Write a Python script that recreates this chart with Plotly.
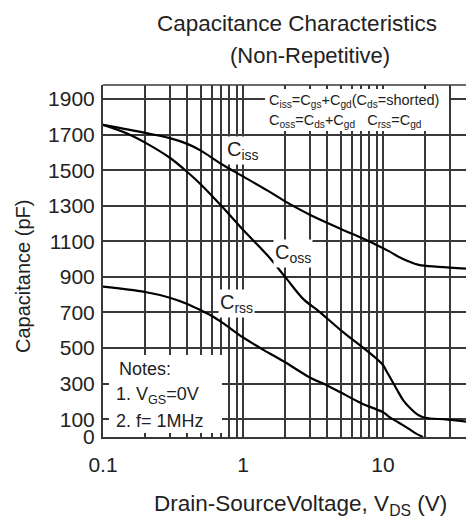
import plotly.graph_objects as go

# Data
ciss_vds = [0.1, 0.2, 0.3, 0.4, 0.5, 0.7, 1.0, 1.5, 2.0, 3.0, 5.0, 7.0, 9.0, 11.0, 13.0, 15.0, 18.0, 25.0, 44.0]
ciss_pf = [1755, 1710, 1680, 1648, 1610, 1535, 1465, 1385, 1325, 1250, 1170, 1120, 1080, 1045, 1012, 990, 968, 957, 945]

coss_vds = [0.1, 0.15, 0.2, 0.3, 0.4, 0.5, 0.7, 1.0, 1.5, 2.0, 2.7, 3.5, 5.0, 7.0, 9.0, 10.0, 10.6, 12.5, 14.0, 16.0, 18.0, 20.0, 29.0, 44.0]
coss_pf = [1755, 1705, 1655, 1570, 1490, 1420, 1300, 1165, 1020, 900, 775, 705, 600, 510, 440, 405, 370, 270, 205, 155, 122, 108, 98, 82]

crss_vds = [0.1, 0.2, 0.3, 0.4, 0.5, 0.6, 0.72, 1.0, 1.4, 2.0, 3.0, 4.0, 5.0, 7.0, 9.0, 10.0, 11.0, 13.0, 15.0, 17.0, 19.3]
crss_pf = [845, 815, 783, 748, 712, 680, 640, 560, 490, 420, 335, 290, 250, 190, 155, 140, 115, 80, 50, 22, 0]

y_ticks = [0, 100, 300, 500, 700, 900, 1100, 1300, 1500, 1700, 1900]
x_ticks = [0.1, 1, 10]
x_tick_text = ["0.1", "1", "10"]
x_minor = [0.2, 0.3, 0.4, 0.5, 0.6, 0.7, 0.8, 0.9, 2, 3, 4, 5, 6, 7, 8, 9, 20, 30, 40]

FONT = "Liberation Sans, Arial, sans-serif"
INK = "#222222"
GRID = "#383838"
GW = 2

# plot area in page pixels (page has an 8px body margin)
PL, PR, PT, PB = 103, 474, 85, 437
def px(x):
    return (x - PL) / (PR - PL)
def py(y):
    return (PB - y) / (PB - PT)

fig = go.Figure()
line = dict(color="black", width=2.2, shape="spline", smoothing=1.0)
fig.add_trace(go.Scatter(x=ciss_vds, y=ciss_pf, mode="lines", line=line, name="Ciss"))
fig.add_trace(go.Scatter(x=coss_vds, y=coss_pf, mode="lines", line=line, name="Coss"))
fig.add_trace(go.Scatter(x=crss_vds, y=crss_pf, mode="lines", line=line, name="Crss"))

fig.update_layout(
    width=474, height=522,
    margin=dict(l=PL - 8, r=8, t=PT - 8, b=522 - (PB - 8)),
    paper_bgcolor="white", plot_bgcolor="white",
    showlegend=False,
    font=dict(family=FONT, color=INK, size=20),
)

fig.update_xaxes(
    type="log", range=[-1, 1.65],
    tickvals=x_ticks, ticktext=x_tick_text,
    showgrid=True, gridcolor=GRID, gridwidth=GW,
    ticks="inside", ticklen=5, tickcolor=GRID,
    minor=dict(tickvals=x_minor, showgrid=True, gridcolor=GRID, gridwidth=GW,
               ticks="inside", ticklen=5, tickcolor=GRID),
    showline=True, linecolor=GRID, linewidth=GW,
    tickfont=dict(size=21, family=FONT, color=INK),
    ticklabelstandoff=8,
    zeroline=False,
)
fig.update_yaxes(
    range=[0, 1979],
    tickvals=y_ticks,
    showgrid=True, gridcolor=GRID, gridwidth=GW,
    ticks="inside", ticklen=5, tickcolor=GRID,
    showline=True, linecolor=GRID, linewidth=GW,
    tickfont=dict(size=21, family=FONT, color=INK),
    ticklabelstandoff=2,
    zeroline=False,
)

# top frame line
fig.add_shape(type="line", xref="paper", yref="paper", x0=0, x1=1, y0=1, y1=1,
              line=dict(color=GRID, width=1.6))

def text(t, x, y, size, xanchor="center", angle=0, bg=None):
    fig.add_annotation(text=t, xref="paper", yref="paper", x=px(x), y=py(y),
                       xanchor=xanchor, yanchor="middle", showarrow=False, textangle=angle,
                       bgcolor=bg, borderpad=1,
                       font=dict(size=size, family=FONT, color=INK))

# titles
text("Capacitance Characteristics", 297, 23, 22.5)
text("(Non-Repetitive)", 310, 55, 22)
text("Drain-SourceVoltage, V<sub>DS</sub> (V)", 300, 505, 22.5)
text("Capacitance (pF)", 23, 277, 20, angle=-90)

# white boxes covering the grid
for x0, x1, y0, y1 in [(109, 222, 355, 433), (265, 449, 89, 131)]:
    fig.add_shape(type="rect", xref="paper", yref="paper", x0=px(x0), x1=px(x1), y0=py(y1), y1=py(y0),
                  fillcolor="white", line=dict(width=0), layer="above")

# notes
text("Notes:", 117, 369, 18, xanchor="left")
text("1. V<sub>GS</sub>=0V", 114, 395, 18, xanchor="left")
text("2. f= 1MHz", 114, 421, 18, xanchor="left")

# definitions
text("C<sub>iss</sub>=C<sub>gs</sub>+C<sub>gd</sub>(C<sub>ds</sub>=shorted)", 267, 101, 14.5, xanchor="left")
text("C<sub>oss</sub>=C<sub>ds</sub>+C<sub>gd</sub>   C<sub>rss</sub>=C<sub>gd</sub>", 267, 121, 14.5, xanchor="left")

# curve labels
text("C<sub>iss</sub>", 243, 150, 20, bg="white")
text("C<sub>oss</sub>", 293, 253, 20, bg="white")
text("C<sub>rss</sub>", 236, 303, 20, bg="white")

fig.write_html("out.html")
